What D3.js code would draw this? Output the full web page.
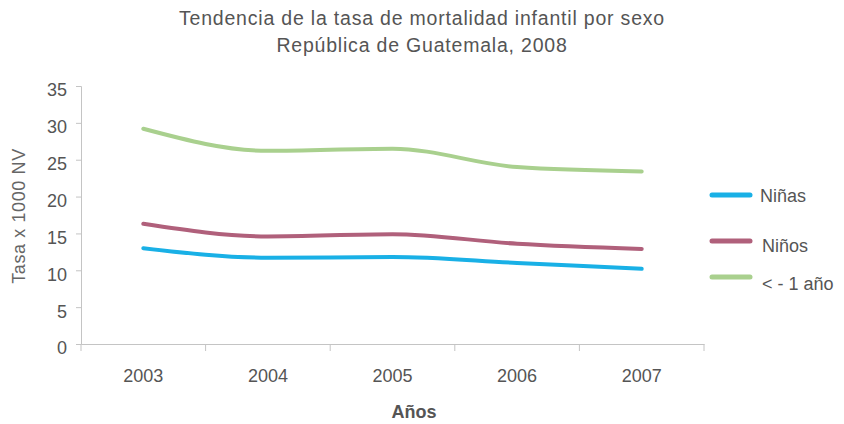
<!DOCTYPE html>
<html>
<head>
<meta charset="utf-8">
<script src="https://cdn.jsdelivr.net/npm/d3@7"></script>
<style>
  body { margin: 0; background: #fff; }
  svg { font-family: "Liberation Sans", Arial, sans-serif; }
</style>
</head>
<body>
<svg id="chart" width="844" height="424"></svg>
<script>
// data
const years = ["2003", "2004", "2005", "2006", "2007"];
const ninas = [13.0, 11.7, 11.8, 11.0, 10.2];
const ninos = [16.3, 14.6, 14.9, 13.6, 12.9];
const menor1 = [29.2, 26.2, 26.5, 24.0, 23.4];
const yTicks = [0, 5, 10, 15, 20, 25, 30, 35];
const seriesNames = ["Niñas", "Niños", "< - 1 año"];

const series = [
  { name: seriesNames[0], values: ninas, color: "#19b0e6" },
  { name: seriesNames[1], values: ninos, color: "#b0607b" },
  { name: seriesNames[2], values: menor1, color: "#a9d08e" }
];

const svg = d3.select("#chart");
const textColor = "#555";
const axisColor = "#c4c4c4";
const fontSize = 18;

const x = d3.scaleBand().domain(years).range([81, 704]).padding(0);
const y = d3.scaleLinear().domain([0, 35]).range([344, 86]);

// title
svg.append("text")
  .attr("x", 422).attr("y", 25)
  .attr("text-anchor", "middle")
  .attr("font-size", 19.5)
  .attr("letter-spacing", 0.8)
  .attr("fill", textColor)
  .text("Tendencia de la tasa de mortalidad infantil por sexo");
svg.append("text")
  .attr("x", 422).attr("y", 52)
  .attr("text-anchor", "middle")
  .attr("font-size", 19.5)
  .attr("letter-spacing", 0.8)
  .attr("fill", textColor)
  .text("República de Guatemala, 2008");

// y axis
const yAxis = svg.append("g")
  .attr("transform", "translate(81,0)")
  .call(d3.axisLeft(y).tickValues(yTicks).tickSize(5).tickPadding(9));
yAxis.select(".domain").attr("stroke", axisColor);
yAxis.selectAll(".tick line").attr("stroke", axisColor);
yAxis.selectAll(".tick text")
  .attr("font-size", fontSize)
  .attr("fill", textColor)
  .attr("dy", "0.55em")
  .attr("font-family", "Liberation Sans, Arial, sans-serif");

// x axis: labels centred in bands, ticks at band edges
const xAxis = svg.append("g")
  .attr("transform", "translate(0,344)")
  .call(d3.axisBottom(x).tickSize(0).tickPadding(25));
xAxis.select(".domain").attr("stroke", axisColor);
xAxis.selectAll(".tick text")
  .attr("font-size", fontSize)
  .attr("fill", textColor)
  .attr("font-family", "Liberation Sans, Arial, sans-serif");

const edges = years.map(d => x(d)).concat([x.range()[1]]);
svg.append("g").selectAll("line")
  .data(edges)
  .join("line")
  .attr("x1", d => d).attr("x2", d => d)
  .attr("y1", 344).attr("y2", 351)
  .attr("stroke", axisColor);

// axis titles
svg.append("text")
  .attr("transform", "translate(25,216) rotate(-90)")
  .attr("text-anchor", "middle")
  .attr("font-size", fontSize)
  .attr("letter-spacing", 0.6)
  .attr("fill", "#666")
  .text("Tasa x 1000 NV");
svg.append("text")
  .attr("x", 414).attr("y", 418)
  .attr("text-anchor", "middle")
  .attr("font-size", fontSize)
  .attr("font-weight", "bold")
  .attr("fill", textColor)
  .text("Años");

// lines
const line = d3.line()
  .x((d, i) => x(years[i]) + x.bandwidth() / 2)
  .y(d => y(d))
  .curve(d3.curveMonotoneX);

svg.append("g").selectAll("path")
  .data(series)
  .join("path")
  .attr("d", d => line(d.values))
  .attr("fill", "none")
  .attr("stroke", d => d.color)
  .attr("stroke-width", 4)
  .attr("stroke-linecap", "round");

// legend
const legendY = [195, 241, 277];
const legendTextY = [202, 252, 290];
const legend = svg.append("g");
legend.selectAll("line")
  .data(series)
  .join("line")
  .attr("x1", 712).attr("x2", 750)
  .attr("y1", (d, i) => legendY[i]).attr("y2", (d, i) => legendY[i])
  .attr("stroke", d => d.color)
  .attr("stroke-width", 5)
  .attr("stroke-linecap", "round");
legend.selectAll("text")
  .data(series)
  .join("text")
  .attr("x", (d, i) => i === 0 ? 760 : 762)
  .attr("y", (d, i) => legendTextY[i])
  .attr("font-size", fontSize)
  .attr("fill", textColor)
  .text(d => d.name);
</script>
</body>
</html>
